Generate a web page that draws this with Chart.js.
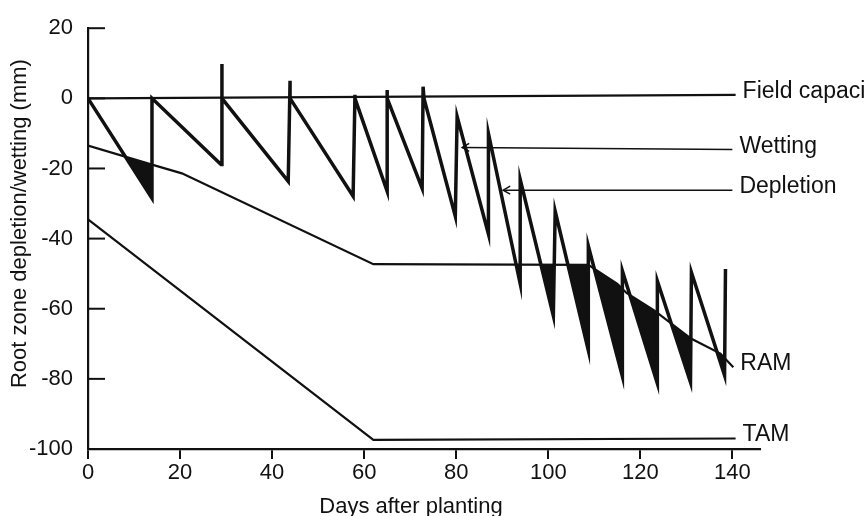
<!DOCTYPE html>
<html>
<head>
<meta charset="utf-8">
<script src="https://cdn.jsdelivr.net/npm/chart.js"></script>
<style>
    html, body { margin: 0; padding: 0; background: #fff; }
</style>
</head>
<body>
<canvas id="chart" width="865" height="516"></canvas>
<script>
'use strict';

// axis ticks
const xTicks = [0, 20, 40, 60, 80, 100, 120, 140];
const yTicks = [20, 0, -20, -40, -60, -80, -100];

// soil water depletion / wetting (sawtooth)
const sawDays  = [0, 13.9, 13.9, 28.9, 29.1, 29.1, 43.5, 43.9, 43.9, 57.6, 58, 58, 65, 65, 65, 72.6, 72.8, 73,
                  79.8, 80.2, 87, 87, 93.9, 93.9, 101.1, 101.5, 108.7, 108.7, 116.1, 116.1, 123.7, 123.7, 130.9, 131.1, 138.3, 138.5];
const sawDepth = [0, -28.5, 0, -18.9, 9.8, 0, -23.7, 5, 0, -27.9, 1, 0, -26.5, 2.4, 0, -25.7, 3.3, 0,
                  -33.6, -5.2, -38.7, -10, -52.9, -23.1, -62, -32.2, -71.9, -42.1, -79.3, -49.2, -81.3, -52.1, -81, -49.6, -79, -48.7];

// readily available moisture
const ramDays  = [0, 13.9, 20.4, 62, 108.7, 115, 117, 123, 131, 137.4, 140.2];
const ramDepth = [-13.5, -18.9, -21.4, -47.3, -47.5, -52.9, -55.5, -60.5, -68.5, -72.8, -76.7];

// total available moisture
const tamDays  = [0, 62, 140.7];
const tamDepth = [-34.5, -97.4, -97];

// field capacity
const fcDays  = [0, 140.7];
const fcDepth = [0, 1];

// leader lines for the labels
const wetDays  = [81.3, 140];
const wetDepth = [-14, -14.6];
const depDays  = [90.2, 140];
const depDepth = [-26.2, -26.2];

const labels = [
    { text: 'Field capacity', dataset: 3 },
    { text: 'Wetting', dataset: 4 },
    { text: 'Depletion', dataset: 5 },
    { text: 'RAM', dataset: 1 },
    { text: 'TAM', dataset: 2 }
];

const FONT = "'Liberation Sans', Arial, sans-serif";
const INK = '#111';

const toPoints = (xs, ys) => xs.map((x, i) => ({ x, y: ys[i] }));

function lineSet(xs, ys, width) {
    return {
        data: toPoints(xs, ys),
        borderColor: INK,
        borderWidth: width,
        fill: false,
        pointRadius: 0
    };
}

const sawSet = lineSet(sawDays, sawDepth, 3.5);
sawSet.fill = { target: 1, above: 'rgba(0,0,0,0)', below: INK };

const extras = {
    id: 'extras',
    afterDatasetsDraw(chart) {
        const { ctx, chartArea: area, scales: { x, y } } = chart;
        ctx.save();
        ctx.strokeStyle = INK;
        ctx.fillStyle = INK;

        // inward y ticks
        ctx.lineWidth = 2;
        yTicks.filter(v => v > -100).forEach(v => {
            const py = y.getPixelForValue(v);
            ctx.beginPath();
            ctx.moveTo(area.left, py);
            ctx.lineTo(area.left + 17, py);
            ctx.stroke();
        });

        // arrow heads on leader lines
        ctx.lineWidth = 1.5;
        [4, 5].forEach(i => {
            const p = chart.data.datasets[i].data[0];
            const px = x.getPixelForValue(p.x), py = y.getPixelForValue(p.y);
            ctx.beginPath();
            ctx.moveTo(px + 7, py - 4);
            ctx.lineTo(px, py);
            ctx.lineTo(px + 7, py + 4);
            ctx.stroke();
        });

        // curve labels
        ctx.font = `23px ${FONT}`;
        ctx.textAlign = 'left';
        ctx.textBaseline = 'alphabetic';
        labels.forEach(l => {
            const pts = chart.data.datasets[l.dataset].data;
            const p = pts[pts.length - 1];
            ctx.fillText(l.text, x.getPixelForValue(p.x) + 7, y.getPixelForValue(p.y) + 3);
        });

        // axis titles
        ctx.font = `22px ${FONT}`;
        ctx.textAlign = 'center';
        ctx.textBaseline = 'middle';
        ctx.fillText('Days after planting', (area.left + area.right) / 2 - 13, area.bottom + 58);
        ctx.translate(20, (area.top + area.bottom) / 2 - 15);
        ctx.rotate(-Math.PI / 2);
        ctx.fillText('Root zone depletion/wetting (mm)', 0, 0);
        ctx.restore();
    }
};

new Chart(document.getElementById('chart'), {
    type: 'line',
    data: {
        datasets: [
            sawSet,
            lineSet(ramDays, ramDepth, 2.2),
            lineSet(tamDays, tamDepth, 2.2),
            lineSet(fcDays, fcDepth, 2.2),
            lineSet(wetDays, wetDepth, 1.5),
            lineSet(depDays, depDepth, 1.5)
        ]
    },
    options: {
        responsive: false,
        animation: false,
        layout: { padding: { top: 26, right: 105, left: 0, bottom: 0 } },
        plugins: {
            legend: { display: false },
            tooltip: { enabled: false }
        },
        elements: { line: { tension: 0 } },
        scales: {
            x: {
                type: 'linear',
                min: 0,
                max: 146,
                afterFit: s => { s.height = 67; },
                afterBuildTicks: s => { s.ticks = xTicks.map(v => ({ value: v })); },
                ticks: { color: INK, font: { family: FONT, size: 22 }, padding: 1, maxRotation: 0 },
                grid: { drawOnChartArea: false, drawTicks: true, tickLength: 10, color: INK, lineWidth: 2 },
                border: { display: true, color: INK, width: 2.2 }
            },
            y: {
                type: 'linear',
                min: -100,
                max: 20,
                afterFit: s => { s.width = 88; },
                afterBuildTicks: s => { s.ticks = yTicks.map(v => ({ value: v })); },
                ticks: { color: INK, font: { family: FONT, size: 22 }, padding: 15 },
                grid: { drawOnChartArea: false, drawTicks: false },
                border: { display: true, color: INK, width: 2.2 }
            }
        }
    },
    plugins: [extras]
});
</script>
</body>
</html>
